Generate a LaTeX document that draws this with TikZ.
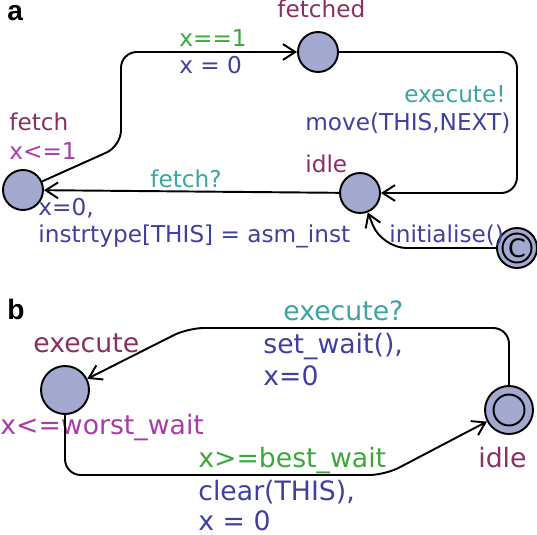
\documentclass[tikz,border=0pt]{standalone}
\usepackage{fontspec}
\setmainfont{DejaVu Sans}
\newfontfamily\panelfont{Liberation Sans}
\usetikzlibrary{arrows.meta}

\definecolor{locfill}{RGB}{163,169,207}
\definecolor{locname}{RGB}{136,48,100}
\definecolor{invcol}{RGB}{168,60,168}
\definecolor{guardcol}{RGB}{60,168,60}
\definecolor{synccol}{RGB}{60,164,164}
\definecolor{updcol}{RGB}{64,64,160}

\begin{document}
\begin{tikzpicture}[x=0.02cm, y=-0.02cm, >={Straight Barb[length=7pt,width=9pt]}]

\tikzstyle loc=[circle, draw, line width=1.1pt, fill=locfill, minimum size=0.8cm, inner sep=0pt]
\tikzstyle bigloc=[loc, minimum size=0.96cm]
\tikzstyle edge=[->, line width=1.1pt, rounded corners=9pt]
\tikzstyle txta=[anchor=base west, inner sep=0pt, font=\fontsize{13.2}{15}\selectfont]
\tikzstyle txtb=[anchor=base west, inner sep=0pt, font=\fontsize{15.2}{18}\selectfont]
\tikzstyle panel=[anchor=base west, inner sep=0pt, font=\panelfont\bfseries\fontsize{16}{18}\selectfont]

\useasboundingbox (0,0) rectangle (537,534);

% panel a
\node (pa) [panel] at (7,20) {a};

\node (fetch) [loc] at (23,190) {};
\node (fetched) [loc] at (318,52) {};
\node (idle) [loc] at (360,193) {};
\node (init) [loc] at (517,248) {};
\node (initin) [circle, draw, line width=1.1pt, minimum size=0.58cm, inner sep=0pt] at (init) {};
\node (initc) [font=\fontsize{14.5}{14}\selectfont, inner sep=0pt] at (init) {C};

\node (fetchname) [txta, text=locname] at (9,130) {fetch};
\node (fetchinv) [txta, text=invcol] at (9,159) {x<=1};
\node (fetchedname) [txta, text=locname] at (277,17) {fetched};
\node (idlename) [txta, text=locname] at (305,172) {idle};

\node (g1) [txta, text=guardcol] at (179,46) {x==1};
\node (u1) [txta, text=updcol] at (179,73) {x = 0};
\node (s2) [txta, text=synccol] at (404,102) {execute!};
\node (u2) [txta, text=updcol] at (305,130) {move(THIS,NEXT)};
\node (s3) [txta, text=synccol] at (150,187) {fetch?};
\node (u3a) [txta, text=updcol] at (38,215) {x=0,};
\node (u3b) [txta, text=updcol] at (38,242) {instrtype[THIS] = asm\_inst};
\node (u4) [txta, text=updcol] at (389,242) {initialise()};

\draw [edge] (fetch) -- (121,146) -- (121,52) -- (fetched);
\draw [edge] (fetched) -- (517,52) -- (517,193) -- (idle);
\draw [edge] (idle) -- (fetch);
\draw [edge, rounded corners=14pt] (init) -- (382,248) -- (idle);

% panel b
\node (pb) [panel] at (7,319) {b};

\node (execute) [bigloc] at (65,390) {};
\node (idleb) [bigloc] at (509,410) {};
\node (idlebin) [circle, draw, line width=1.1pt, minimum size=0.62cm, inner sep=0pt] at (idleb) {};

\node (executename) [txtb, text=locname] at (33,352) {execute};
\node (executeinv) [txtb, text=invcol] at (0,434) {x<=worst\_wait};
\node (idlebname) [txtb, text=locname] at (478,467) {idle};

\node (s5) [txtb, text=synccol] at (283,320) {execute?};
\node (u5a) [txtb, text=updcol] at (263,353) {set\_wait(),};
\node (u5b) [txtb, text=updcol] at (263,385) {x=0};
\node (g6) [txtb, text=guardcol] at (198,467) {x>=best\_wait};
\node (u6a) [txtb, text=updcol] at (198,500) {clear(THIS),};
\node (u6b) [txtb, text=updcol] at (198,530) {x = 0};

\draw [edge] (idleb) -- (509,328) -- (188,328) -- (execute);
\draw [edge] (execute) -- (65,475) -- (385,475) -- (idleb);

\end{tikzpicture}
\end{document}
